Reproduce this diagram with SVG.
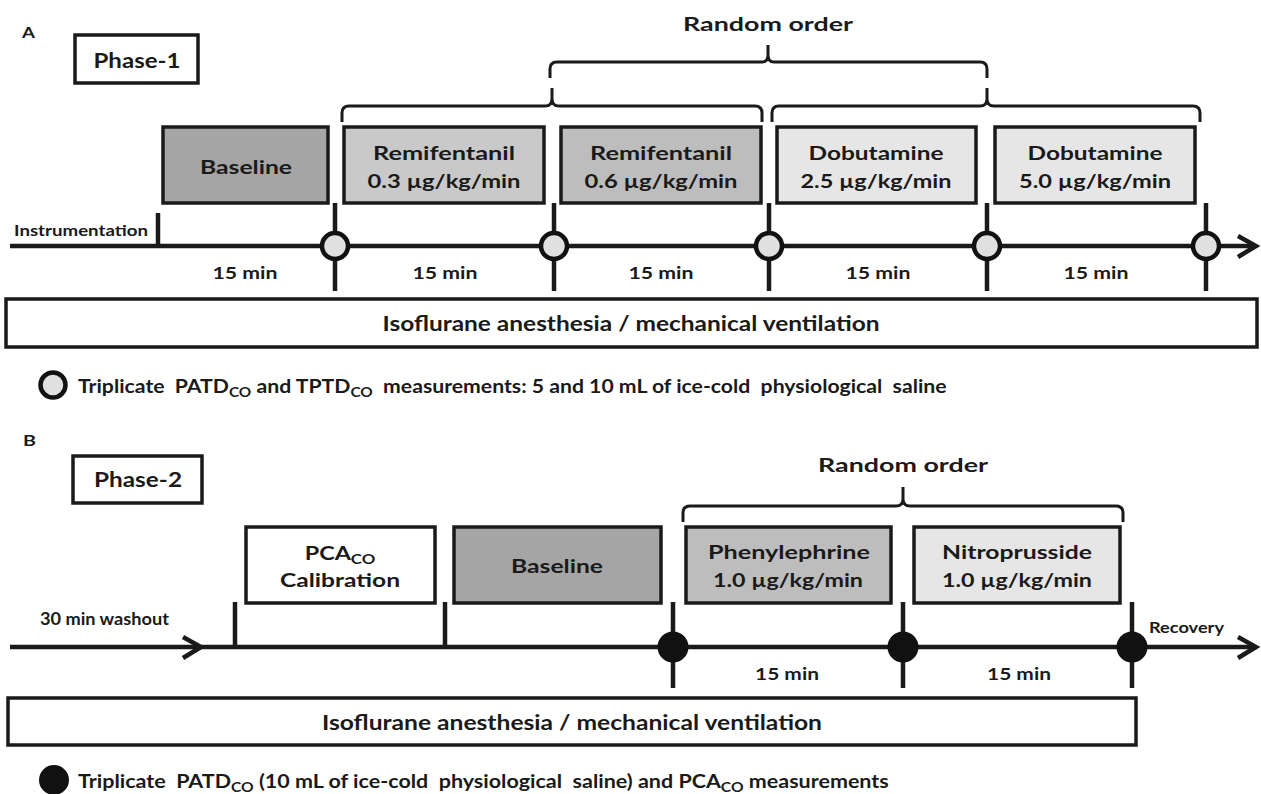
<svg xmlns="http://www.w3.org/2000/svg" width="1261" height="794" viewBox="0 0 1261 794">
<defs>
<style>
text{font-family:Lato,"Open Sans","Liberation Sans",sans-serif;font-weight:bold;fill:#1a1a1a}
.box{stroke:#1a1a1a;stroke-width:3.5}
.t{font-size:19.5px;text-anchor:middle}
.ph{font-size:20px;text-anchor:middle}
.ro{font-size:19.5px;text-anchor:middle}
.min{font-size:17.5px;text-anchor:middle}
.iso{font-size:21px;text-anchor:middle}
.leg{font-size:18.6px}
.lab{font-size:16px}
.line{stroke:#1a1a1a;stroke-width:4.5;fill:none}
.br{stroke:#1a1a1a;stroke-width:3;fill:none}
.oc{fill:#e0e0e0;stroke:#111;stroke-width:4.5}
.bc{fill:#111}
</style>
</defs>
<rect width="1261" height="794" fill="#fff"/>

<!-- Panel A -->
<text class="lab" x="22" y="38" textLength="13" lengthAdjust="spacingAndGlyphs">A</text>
<g id="phase1"><rect class="box" x="75" y="35" width="123" height="48" fill="#fff"/><text class="ph" x="137" y="68" textLength="87" lengthAdjust="spacingAndGlyphs">Phase-1</text></g>
<text id="randomA" class="ro" x="768" y="31" textLength="170" lengthAdjust="spacingAndGlyphs">Random order</text>

<g id="connectors-A">
<path class="br" d="M550 78 L550 69 Q550 62 557 62 L762 62 Q768 62 768 55 L768 45 M768 55 Q768 62 774 62 L980 62 Q987 62 987 69 L987 78"/>
<path class="br" d="M342 122 L342 113 Q342 106 349 106 L545 106 Q552 106 552 99 L552 88 M552 99 Q552 106 559 106 L755 106 Q762 106 762 113 L762 122"/>
<path class="br" d="M772 122 L772 113 Q772 106 779 106 L980 106 Q987 106 987 99 L987 88 M987 99 Q987 106 994 106 L1193 106 Q1200 106 1200 113 L1200 122"/>
<line class="line" x1="10" y1="246" x2="1255" y2="246"/>
<polyline class="line" points="1238,236 1256,246 1238,257"/>
<line class="line" x1="158" y1="213" x2="158" y2="246"/>
<line class="line" x1="335" y1="203" x2="335" y2="291"/>
<line class="line" x1="554" y1="203" x2="554" y2="291"/>
<line class="line" x1="769" y1="203" x2="769" y2="291"/>
<line class="line" x1="987" y1="203" x2="987" y2="291"/>
<line class="line" x1="1206" y1="203" x2="1206" y2="291"/>
</g>

<g id="baselineA"><rect class="box" x="163" y="127" width="165" height="76" fill="#a5a5a5"/><text class="t" x="246" y="174" textLength="92" lengthAdjust="spacingAndGlyphs">Baseline</text></g>
<g id="remi03"><rect class="box" x="344" y="127" width="200" height="76" fill="#c9c9c9"/><text class="t" x="444" y="160" textLength="142" lengthAdjust="spacingAndGlyphs">Remifentanil</text><text class="t" x="444" y="188" textLength="153" lengthAdjust="spacingAndGlyphs">0.3 µg/kg/min</text></g>
<g id="remi06"><rect class="box" x="561" y="127" width="200" height="76" fill="#bdbdbd"/><text class="t" x="661" y="160" textLength="142" lengthAdjust="spacingAndGlyphs">Remifentanil</text><text class="t" x="661" y="188" textLength="153" lengthAdjust="spacingAndGlyphs">0.6 µg/kg/min</text></g>
<g id="dob25"><rect class="box" x="777" y="127" width="199" height="76" fill="#e6e6e6"/><text class="t" x="876" y="160" textLength="135" lengthAdjust="spacingAndGlyphs">Dobutamine</text><text class="t" x="876" y="188" textLength="151" lengthAdjust="spacingAndGlyphs">2.5 µg/kg/min</text></g>
<g id="dob50"><rect class="box" x="995" y="127" width="200" height="76" fill="#e6e6e6"/><text class="t" x="1095" y="160" textLength="135" lengthAdjust="spacingAndGlyphs">Dobutamine</text><text class="t" x="1095" y="188" textLength="152" lengthAdjust="spacingAndGlyphs">5.0 µg/kg/min</text></g>

<g id="pointsA">
<circle class="oc" cx="335" cy="246" r="13"/>
<circle class="oc" cx="554" cy="246" r="13"/>
<circle class="oc" cx="769" cy="246" r="13"/>
<circle class="oc" cx="987" cy="246" r="13"/>
<circle class="oc" cx="1206" cy="246" r="13"/>
</g>
<text x="14" y="236" style="font-size:15.5px" textLength="134" lengthAdjust="spacingAndGlyphs">Instrumentation</text>
<text class="min" x="245" y="279" textLength="65" lengthAdjust="spacingAndGlyphs">15 min</text>
<text class="min" x="445" y="279" textLength="65" lengthAdjust="spacingAndGlyphs">15 min</text>
<text class="min" x="661" y="279" textLength="65" lengthAdjust="spacingAndGlyphs">15 min</text>
<text class="min" x="878" y="279" textLength="65" lengthAdjust="spacingAndGlyphs">15 min</text>
<text class="min" x="1096" y="279" textLength="65" lengthAdjust="spacingAndGlyphs">15 min</text>

<g id="isoA"><rect class="box" x="6" y="299" width="1251" height="48" fill="#fff"/><text class="iso" x="631" y="331" textLength="497" lengthAdjust="spacingAndGlyphs">Isoflurane anesthesia / mechanical ventilation</text></g>

<g id="legendA"><circle class="oc" cx="53" cy="385" r="12.5" stroke-width="5"/>
<text class="leg" transform="translate(78,393) scale(1.14,1)" x="0" y="0" xml:space="preserve">Triplicate  PATD<tspan font-size="13.5" dy="4">CO</tspan><tspan dy="-4"> and TPTD</tspan><tspan font-size="13.5" dy="4">CO</tspan><tspan dy="-4">  measurements: 5 and 10 mL of ice-cold  physiological  saline</tspan></text></g>

<!-- Panel B -->
<text class="lab" x="23" y="446" textLength="13" lengthAdjust="spacingAndGlyphs">B</text>
<g id="phase2"><rect class="box" x="73" y="456" width="129" height="47" fill="#fff"/><text class="ph" x="138" y="487" textLength="88" lengthAdjust="spacingAndGlyphs">Phase-2</text></g>
<text id="randomB" class="ro" x="903" y="472" textLength="170" lengthAdjust="spacingAndGlyphs">Random order</text>

<g id="connectors-B">
<path class="br" d="M683 522 L683 513 Q683 506 690 506 L896 506 Q903 506 903 499 L903 487 M903 499 Q903 506 910 506 L1116 506 Q1123 506 1123 513 L1123 522"/>
<line class="line" x1="10" y1="647" x2="1255" y2="647"/>
<polyline class="line" points="1238,637 1256,647 1238,658"/>
<polyline class="line" points="183,637 201,647 183,658"/>
<line class="line" x1="235" y1="602" x2="235" y2="647"/>
<line class="line" x1="445" y1="602" x2="445" y2="647"/>
<line class="line" x1="673" y1="602" x2="673" y2="688"/>
<line class="line" x1="903" y1="602" x2="903" y2="688"/>
<line class="line" x1="1132" y1="602" x2="1132" y2="688"/>
</g>

<g id="calib"><rect class="box" x="246" y="527" width="189" height="76" fill="#fff"/><text class="t" transform="translate(340,560) scale(1.2,1)" x="0" y="0">PCA<tspan font-size="14" dy="4">CO</tspan></text><text class="t" x="340" y="587" textLength="120" lengthAdjust="spacingAndGlyphs">Calibration</text></g>
<g id="baselineB"><rect class="box" x="454" y="527" width="207" height="76" fill="#a5a5a5"/><text class="t" x="557" y="573" textLength="92" lengthAdjust="spacingAndGlyphs">Baseline</text></g>
<g id="phenyl"><rect class="box" x="686" y="527" width="205" height="76" fill="#bdbdbd"/><text class="t" x="789" y="559" textLength="162" lengthAdjust="spacingAndGlyphs">Phenylephrine</text><text class="t" x="788" y="587" textLength="150" lengthAdjust="spacingAndGlyphs">1.0 µg/kg/min</text></g>
<g id="nitro"><rect class="box" x="914" y="527" width="206" height="76" fill="#e6e6e6"/><text class="t" x="1017" y="559" textLength="150" lengthAdjust="spacingAndGlyphs">Nitroprusside</text><text class="t" x="1017" y="587" textLength="150" lengthAdjust="spacingAndGlyphs">1.0 µg/kg/min</text></g>

<g id="pointsB">
<circle class="bc" cx="673" cy="647" r="15.5"/>
<circle class="bc" cx="903" cy="647" r="15.5"/>
<circle class="bc" cx="1132" cy="647" r="15.5"/>
</g>
<text x="40" y="625" style="font-size:16.5px" textLength="129" lengthAdjust="spacingAndGlyphs">30 min washout</text>
<text x="1149" y="633" style="font-size:14.5px" textLength="75" lengthAdjust="spacingAndGlyphs">Recovery</text>
<text class="min" x="787" y="680" textLength="64" lengthAdjust="spacingAndGlyphs">15 min</text>
<text class="min" x="1019" y="680" textLength="64" lengthAdjust="spacingAndGlyphs">15 min</text>

<g id="isoB"><rect class="box" x="8" y="698" width="1128" height="47" fill="#fff"/><text class="iso" x="572" y="730" textLength="500" lengthAdjust="spacingAndGlyphs">Isoflurane anesthesia / mechanical ventilation</text></g>

<g id="legendB"><circle class="bc" cx="54" cy="780" r="15"/>
<text class="leg" transform="translate(78,788) scale(1.156,1)" x="0" y="0" xml:space="preserve">Triplicate  PATD<tspan font-size="13.5" dy="4">CO</tspan><tspan dy="-4"> (10 mL of ice-cold  physiological  saline) and PCA</tspan><tspan font-size="13.5" dy="4">CO</tspan><tspan dy="-4"> measurements</tspan></text></g>
</svg>
